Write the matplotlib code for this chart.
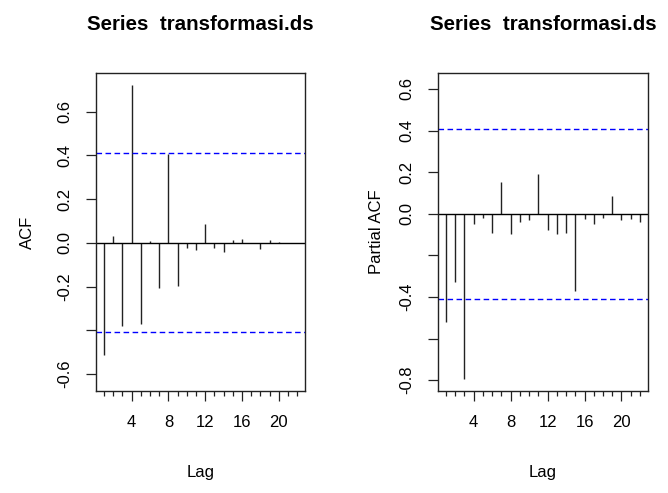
import matplotlib
matplotlib.use("Agg")
import matplotlib.pyplot as plt
from matplotlib.ticker import FixedLocator

plt.rcParams['font.family'] = ['Liberation Sans', 'DejaVu Sans']

# data
lags = list(range(1, 23))
acf_vals = [-0.515, 0.032, -0.380, 0.724, -0.373, 0.006, -0.206, 0.407, -0.198, -0.024, -0.032,
            0.085, -0.024, -0.044, 0.012, 0.018, -0.002, -0.030, 0.012, 0.002, -0.002, 0.001]
pacf_vals = [-0.522, -0.326, -0.796, -0.050, -0.022, -0.090, 0.154, -0.095, -0.039, -0.032, 0.191,
             -0.079, -0.096, -0.090, -0.371, -0.027, -0.051, -0.018, 0.085, -0.032, -0.027, -0.039]
ci = 0.409
title = "Series  transformasi.ds"
acf_yticks = [-0.6, -0.4, -0.2, 0.0, 0.2, 0.4, 0.6]
acf_ylabels = ["-0.6", "", "-0.2", "0.0", "0.2", "0.4", "0.6"]
pacf_yticks = [-0.8, -0.6, -0.4, -0.2, 0.0, 0.2, 0.4, 0.6]
pacf_ylabels = ["-0.8", "", "-0.4", "", "0.0", "0.2", "0.4", "0.6"]
xticks = [4, 8, 12, 16, 20]

fig = plt.figure(figsize=(6.68, 4.93), dpi=100)
ax1 = fig.add_axes([0.1442, 0.2069, 0.3124, 0.6451])
ax2 = fig.add_axes([0.6561, 0.2069, 0.3135, 0.6451])


def draw(ax, vals, ylim, yticks, ylabels, ylab, ylab_pad):
    ax.vlines(lags, 0, vals, color='#222222', lw=1.0)
    ax.axhline(0, color='black', lw=1.0)
    ax.axhline(ci, color='blue', lw=1.0, ls=(0, (4, 2.5)))
    ax.axhline(-ci, color='blue', lw=1.0, ls=(0, (4, 2.5)))
    ax.set_xlim(0.16, 22.84)
    ax.set_ylim(*ylim)
    ax.set_xticks(xticks)
    ax.xaxis.set_minor_locator(FixedLocator(lags))
    ax.set_yticks(yticks)
    ax.set_yticklabels(ylabels, rotation=90, va='center')
    ax.tick_params(axis='both', which='major', length=7.4, width=0.9, color='#222222',
                   labelsize=12, pad=10)
    ax.tick_params(axis='x', which='minor', length=3.6, width=0.9, color='#222222')
    for s in ax.spines.values():
        s.set_color('#222222')
        s.set_linewidth(1.0)
    ax.set_title(title, fontsize=14.8, fontweight='bold', pad=31)
    ax.set_xlabel("Lag", fontsize=12, labelpad=25)
    ax.set_ylabel(ylab, fontsize=12, labelpad=ylab_pad)


draw(ax1, acf_vals, (-0.678, 0.777), acf_yticks, acf_ylabels, "ACF", 16)
draw(ax2, pacf_vals, (-0.852, 0.677), pacf_yticks, pacf_ylabels, "Partial ACF", 11)

fig.savefig("out.png", dpi=100)
